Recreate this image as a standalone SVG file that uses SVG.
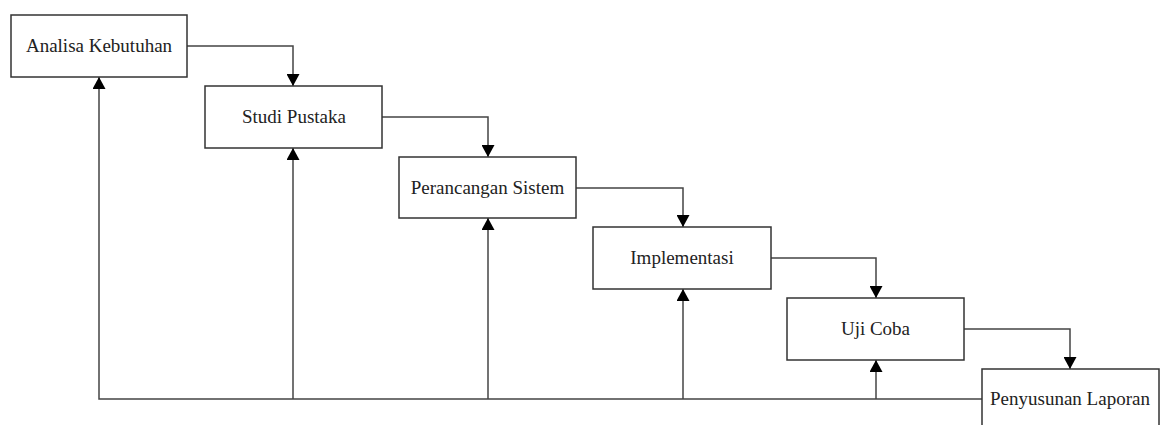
<svg xmlns="http://www.w3.org/2000/svg" width="1165" height="425" viewBox="0 0 1165 425">
<style>
.box{fill:#fff;stroke:#333;stroke-width:1.5}
.lbl{font-family:"Liberation Serif","Times New Roman",serif;font-size:19px;fill:#222;text-anchor:middle}
.con{fill:none;stroke:#444;stroke-width:1.5}
</style>
<defs>
<marker id="ah" viewBox="0 0 12 13" markerWidth="12" markerHeight="13" refX="12" refY="6.5" orient="auto" markerUnits="userSpaceOnUse">
<path d="M0,0 L12,6.5 L0,13 z" fill="#000"/>
</marker>
</defs>
<rect width="1165" height="425" fill="#fff"/>
<g id="connectors">
<path class="con" d="M187,46 H293 V86" marker-end="url(#ah)"/>
<path class="con" d="M382,117 H488 V157" marker-end="url(#ah)"/>
<path class="con" d="M576,188 H683 V227" marker-end="url(#ah)"/>
<path class="con" d="M771,258 H876 V298" marker-end="url(#ah)"/>
<path class="con" d="M964,329 H1070 V369" marker-end="url(#ah)"/>
<path class="con" d="M982,399 H99 V77" marker-end="url(#ah)"/>
<path class="con" d="M293,399 V148" marker-end="url(#ah)"/>
<path class="con" d="M488,399 V218" marker-end="url(#ah)"/>
<path class="con" d="M683,399 V289" marker-end="url(#ah)"/>
<path class="con" d="M876,399 V360" marker-end="url(#ah)"/>
</g>
<g id="analisa-kebutuhan">
<rect class="box" x="11" y="15" width="176" height="62"/>
<text class="lbl" x="99" y="52">Analisa Kebutuhan</text>
</g>
<g id="studi-pustaka">
<rect class="box" x="205" y="86" width="177" height="62"/>
<text class="lbl" x="294" y="123">Studi Pustaka</text>
</g>
<g id="perancangan-sistem">
<rect class="box" x="399" y="157" width="177" height="61"/>
<text class="lbl" x="487.5" y="194">Perancangan Sistem</text>
</g>
<g id="implementasi">
<rect class="box" x="593" y="227" width="178" height="62"/>
<text class="lbl" x="682" y="264">Implementasi</text>
</g>
<g id="uji-coba">
<rect class="box" x="787" y="298" width="177" height="62"/>
<text class="lbl" x="875.5" y="335">Uji Coba</text>
</g>
<g id="penyusunan-laporan">
<rect class="box" x="982" y="369" width="177" height="62"/>
<text class="lbl" x="1070" y="405">Penyusunan Laporan</text>
</g>
</svg>
